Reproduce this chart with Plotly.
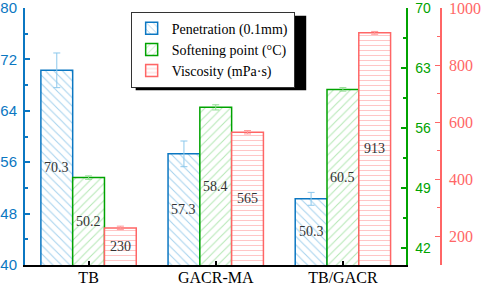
import plotly.graph_objects as go

categories = ["TB", "GACR-MA", "TB/GACR"]
penetration = [70.3, 57.3, 50.3]
penetration_err = [2.7, 2.0, 1.0]
softening = [50.2, 58.4, 60.5]
softening_err = [0.2, 0.3, 0.2]
viscosity = [230, 565, 913]
viscosity_err = [6, 6, 5]

SERIF = "Liberation Serif, Times New Roman, serif"
SANS = "Liberation Sans, Arial, sans-serif"

BLUE = "#0B77C2"
GREEN = "#00A300"
RED = "#FF6666"

Y1_RANGE = [40, 80]
Y2_RANGE = [40, 70]
Y3_RANGE = [100, 1000]

fig = go.Figure()
annotations = []

def add_bar(name, vals, errs, yaxis, yrange, line_col, pat_col, err_col, shape, size, offset):
    fig.add_trace(go.Bar(
        name=name, x=categories, y=vals, yaxis=yaxis,
        width=0.25, offset=offset,
        marker=dict(color="white", line=dict(color=line_col, width=1.5),
                    pattern=dict(shape=shape, fgcolor=pat_col, bgcolor="white",
                                 size=size, solidity=0.18)),
        error_y=dict(type="data", array=errs, visible=True, color=err_col,
                     thickness=1, width=3.5),
    ))
    for i, v in enumerate(vals):
        annotations.append(dict(
            x=i + offset + 0.125, y=(yrange[0] + v) / 2, xref="x", yref=yaxis,
            text=f"{v:g}", showarrow=False,
            font=dict(family=SERIF, size=14, color="#333333")))

add_bar("Penetration (0.1mm)", penetration, penetration_err, "y", Y1_RANGE,
        BLUE, "#4FA6DC", "#8CC8EC", "\\", 6, -0.375)
add_bar("Softening point (°C)", softening, softening_err, "y2", Y2_RANGE,
        GREEN, "#6CCF6C", "#8FDC8F", "/", 6, -0.125)
add_bar("Viscosity (mPa·s)", viscosity, viscosity_err, "y3", Y3_RANGE,
        RED, "#FF8080", "#FF9999", "-", 5, 0.125)

fig.update_layout(
    width=484, height=287,
    margin=dict(l=25, r=42.5, t=8, b=22, autoexpand=False),
    plot_bgcolor="white", paper_bgcolor="white",
    barmode="overlay",
    showlegend=True,
    annotations=annotations,
    legend=dict(x=0.254, y=0.986, xanchor="left", yanchor="top",
                bgcolor="white", bordercolor="#333333", borderwidth=1,
                font=dict(family=SERIF, size=14, color="black"),
                tracegroupgap=0, itemwidth=30),
    xaxis=dict(domain=[0, 0.917], range=[-0.5, 2.5], showline=True,
               linecolor="black", linewidth=2, ticks="inside", ticklen=4,
               tickcolor="black", tickwidth=1.5, showgrid=False, zeroline=False,
               ticklabelstandoff=-3, ticklabeloverflow="allow",
               tickfont=dict(family=SERIF, size=16, color="black")),
    yaxis=dict(range=Y1_RANGE, tick0=0, dtick=8, showline=True, linecolor=BLUE,
               linewidth=2, ticks="inside", ticklen=5, tickwidth=1.5, tickcolor=BLUE,
               minor=dict(dtick=4, ticks="inside", ticklen=3, tickcolor=BLUE, tickwidth=1.5),
               showgrid=False, zeroline=False, ticklabelstandoff=3,
               ticklabeloverflow="allow",
               tickfont=dict(family=SANS, size=15, color=BLUE)),
    yaxis2=dict(range=Y2_RANGE, tick0=0, dtick=7, overlaying="y", side="right",
                anchor="x", showline=True, linecolor=GREEN, linewidth=2,
                ticks="inside", ticklen=5, tickwidth=1.5, tickcolor=GREEN,
                minor=dict(dtick=3.5, ticks="inside", ticklen=3, tickcolor=GREEN, tickwidth=1.5),
                showgrid=False, zeroline=False, ticklabelstandoff=4,
                ticklabeloverflow="allow",
                tickfont=dict(family=SANS, size=14, color=GREEN)),
    yaxis3=dict(range=Y3_RANGE, tick0=0, dtick=200, overlaying="y", side="right",
                anchor="free", position=1.0, showline=True, linecolor=RED, linewidth=1.5,
                ticks="inside", ticklen=5, tickwidth=1.2, tickcolor=RED,
                minor=dict(dtick=100, ticks="inside", ticklen=3, tickcolor=RED, tickwidth=1.2),
                showgrid=False, zeroline=False, ticklabelstandoff=4,
                ticklabeloverflow="allow",
                tickfont=dict(family=SERIF, size=16, color=RED)),
    shapes=[dict(type="rect", xref="paper", yref="paper",
                 x0=0.266, x1=0.676, y0=0.68, y1=0.97,
                 fillcolor="black", line=dict(width=0), layer="above")],
)

fig.write_html("out.html", config={"displayModeBar": False},
               post_script="document.body.style.margin='0';document.body.style.padding='0';")
